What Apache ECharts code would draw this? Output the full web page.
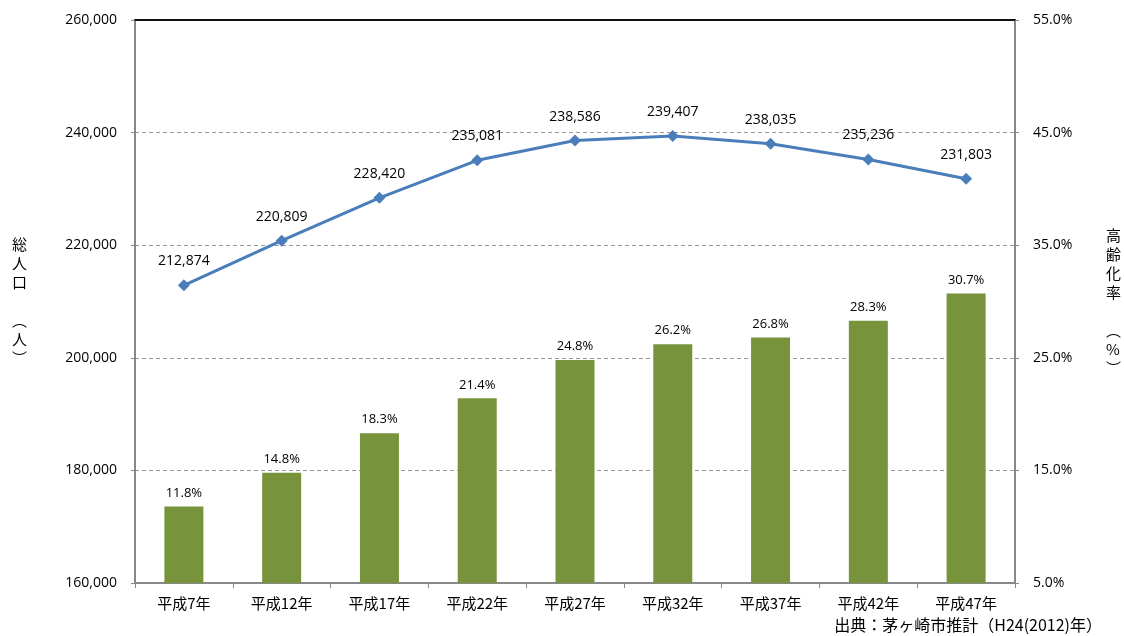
<!DOCTYPE html>
<html>
<head>
<meta charset="utf-8">
<script src="https://cdn.jsdelivr.net/npm/echarts@6/dist/echarts.min.js"></script>
<style>
html, body { margin: 0; padding: 0; background: #fff; }
#chart { width: 1124px; height: 636px; }
</style>
</head>
<body>
<div id="chart"></div>
<script>
const categories = ['平成7年', '平成12年', '平成17年', '平成22年', '平成27年', '平成32年', '平成37年', '平成42年', '平成47年'];
const population = [212874, 220809, 228420, 235081, 238586, 239407, 238035, 235236, 231803];
const agingRate = [11.8, 14.8, 18.3, 21.4, 24.8, 26.2, 26.8, 28.3, 30.7];

const numFont = '"Open Sans", "Noto Sans", sans-serif';
const jpFont = '"Noto Sans CJK JP", sans-serif';

const chart = echarts.init(document.getElementById('chart'));

const option = {
    animation: false,
    grid: { left: 135, right: 109, top: 20, bottom: 53, containLabel: false, outerBoundsMode: 'none' },
    xAxis: [
        {
            type: 'category',
            data: categories,
            axisLine: { lineStyle: { color: '#888', width: 2 } },
            axisTick: { show: true, alignWithLabel: false, lineStyle: { color: '#888' } },
            axisLabel: { color: '#000', fontFamily: jpFont, fontSize: 15, margin: 13 }
        },
        {
            type: 'category',
            position: 'top',
            data: categories,
            axisLine: { lineStyle: { color: '#111', width: 2 } },
            axisTick: { show: false },
            axisLabel: { show: false }
        }
    ],
    yAxis: [
        {
            type: 'value',
            min: 160000,
            max: 260000,
            interval: 20000,
            name: '総\n人\n口\n\n︵\n人\n︶',
            nameLocation: 'middle',
            nameRotate: 0,
            nameGap: 108,
            nameTextStyle: { fontFamily: jpFont, fontSize: 15, lineHeight: 19, color: '#000' },
            axisLine: { show: true, lineStyle: { color: '#888', width: 2 } },
            axisTick: { show: true, length: 4, lineStyle: { color: '#888' } },
            axisLabel: {
                color: '#000', fontFamily: numFont, fontSize: 14, margin: 18,
                formatter: v => v.toLocaleString('en-US')
            },
            splitLine: { lineStyle: { color: '#999', type: [4, 3] } }
        },
        {
            type: 'value',
            min: 5,
            max: 55,
            interval: 10,
            name: '高\n齢\n化\n率\n\n︵\n%\n︶',
            nameLocation: 'middle',
            nameRotate: 0,
            nameGap: 91,
            nameTextStyle: { fontFamily: jpFont, fontSize: 15, lineHeight: 19, color: '#000' },
            axisLine: { show: true, lineStyle: { color: '#888', width: 2 } },
            axisTick: { show: true, length: 4, lineStyle: { color: '#888' } },
            axisLabel: {
                color: '#000', fontFamily: numFont, fontSize: 14, margin: 18,
                formatter: v => v.toFixed(1) + '%'
            },
            splitLine: { show: false }
        }
    ],
    series: [
        {
            name: '高齢化率',
            type: 'bar',
            yAxisIndex: 1,
            data: agingRate,
            barWidth: 39,
            itemStyle: { color: '#77933c' },
            label: {
                show: true,
                position: 'top',
                distance: 7,
                color: '#000',
                fontFamily: numFont,
                fontSize: 13,
                formatter: p => p.value.toFixed(1) + '%'
            }
        },
        {
            name: '総人口',
            type: 'line',
            yAxisIndex: 0,
            data: population,
            symbol: 'diamond',
            symbolSize: 12,
            lineStyle: { color: '#4a7ebb', width: 3 },
            itemStyle: { color: '#4a7ebb' },
            label: {
                show: true,
                position: 'top',
                distance: 11,
                color: '#000',
                fontFamily: numFont,
                fontSize: 14,
                formatter: p => p.value.toLocaleString('en-US')
            },
            z: 5
        }
    ],
    graphic: [
        {
            type: 'text',
            right: 22,
            bottom: 3,
            style: {
                text: '出典：茅ヶ崎市推計（H24(2012)年）',
                font: '16px "Noto Sans CJK JP", sans-serif',
                fill: '#000'
            }
        }
    ]
};

chart.setOption(option);
</script>
</body>
</html>
